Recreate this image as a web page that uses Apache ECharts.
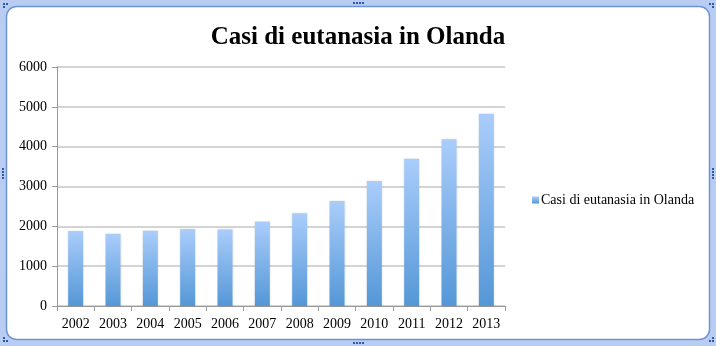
<!DOCTYPE html>
<html>
<head>
<meta charset="utf-8">
<style>
  html, body { margin: 0; padding: 0; background: #fff; }
  #chart { width: 716px; height: 346px; }
</style>
<script src="https://cdn.jsdelivr.net/npm/echarts@6/dist/echarts.min.js"></script>
</head>
<body>
<div id="chart"></div>
<script>
// Euthanasia cases reported in the Netherlands, per year
const years = ['2002', '2003', '2004', '2005', '2006', '2007', '2008', '2009', '2010', '2011', '2012', '2013'];
const cases = [1882, 1815, 1886, 1933, 1923, 2120, 2331, 2636, 3136, 3695, 4188, 4829];
const seriesName = 'Casi di eutanasia in Olanda';
const titleText = 'Casi di eutanasia in Olanda';

const serif = '"Liberation Serif", "DejaVu Serif", serif';
const chart = echarts.init(document.getElementById('chart'));

// window-style frame with small resize handles
const handleColor = '#2f5aa8';
const handles = [];
function dots(x, y, n, dx, dy) {
  for (let i = 0; i < n; i++) {
    handles.push({ type: 'rect', shape: { x: x + i * dx, y: y + i * dy, width: 2, height: 2 }, style: { fill: handleColor }, silent: true });
  }
}
dots(353, 2, 4, 3, 0);
dots(353, 342, 4, 3, 0);
dots(2, 168, 4, 0, 3);
dots(712, 168, 4, 0, 3);
dots(3, 3, 2, 3, 0); dots(3, 6, 1, 0, 0);
dots(709, 3, 2, 3, 0); dots(712, 6, 1, 0, 0);
dots(3, 340, 2, 3, 0); dots(3, 337, 1, 0, 0);
dots(709, 340, 2, 3, 0); dots(712, 337, 1, 0, 0);

chart.setOption({
  animation: false,
  backgroundColor: '#fff',
  graphic: [
    { type: 'rect', z: -10, shape: { x: 0, y: 0, width: 716, height: 346 }, style: { fill: '#b8cdf1' }, silent: true },
    { type: 'rect', z: -9, shape: { x: 6.5, y: 6.5, width: 703, height: 333, r: 10 }, style: { fill: '#ffffff', stroke: '#6f93d8', lineWidth: 1.5 }, silent: true },
    ...handles
  ],
  title: {
    text: titleText,
    left: 'center',
    top: 20,
    textStyle: { fontFamily: serif, fontWeight: 'bold', fontSize: 25, color: '#000' }
  },
  legend: {
    left: 527,
    top: 188,
    orient: 'vertical',
    icon: 'rect',
    itemWidth: 7,
    itemHeight: 7,
    itemGap: 4,
    textStyle: { fontFamily: serif, fontSize: 14, color: '#000', padding: [0, 0, 0, -3] },
    data: [seriesName]
  },
  grid: { left: 57, right: 211, top: 67, bottom: 40, containLabel: false },
  xAxis: {
    type: 'category',
    data: years,
    axisLine: { lineStyle: { color: '#9a9a9a', width: 1 } },
    axisTick: { show: true, alignWithLabel: false, length: 5, lineStyle: { color: '#9a9a9a' } },
    axisLabel: { fontFamily: serif, fontSize: 14, color: '#000', margin: 11 }
  },
  yAxis: {
    type: 'value',
    min: 0,
    max: 6000,
    interval: 1000,
    axisLine: { show: true, lineStyle: { color: '#9a9a9a', width: 1 } },
    axisTick: { show: true, length: 5, lineStyle: { color: '#9a9a9a' } },
    axisLabel: { fontFamily: serif, fontSize: 14, color: '#000', margin: 10, formatter: (v) => String(v) },
    splitLine: { lineStyle: { color: '#c6c6c6', width: 1.5 } }
  },
  series: [{
    name: seriesName,
    type: 'bar',
    data: cases,
    barWidth: 15,
    itemStyle: {
      color: new echarts.graphic.LinearGradient(0, 0, 0, 1, [
        { offset: 0, color: '#aacdfb' },
        { offset: 1, color: '#5497d7' }
      ]),
      shadowColor: 'rgba(0,0,0,0.12)',
      shadowBlur: 2
    }
  }]
});
</script>
</body>
</html>
